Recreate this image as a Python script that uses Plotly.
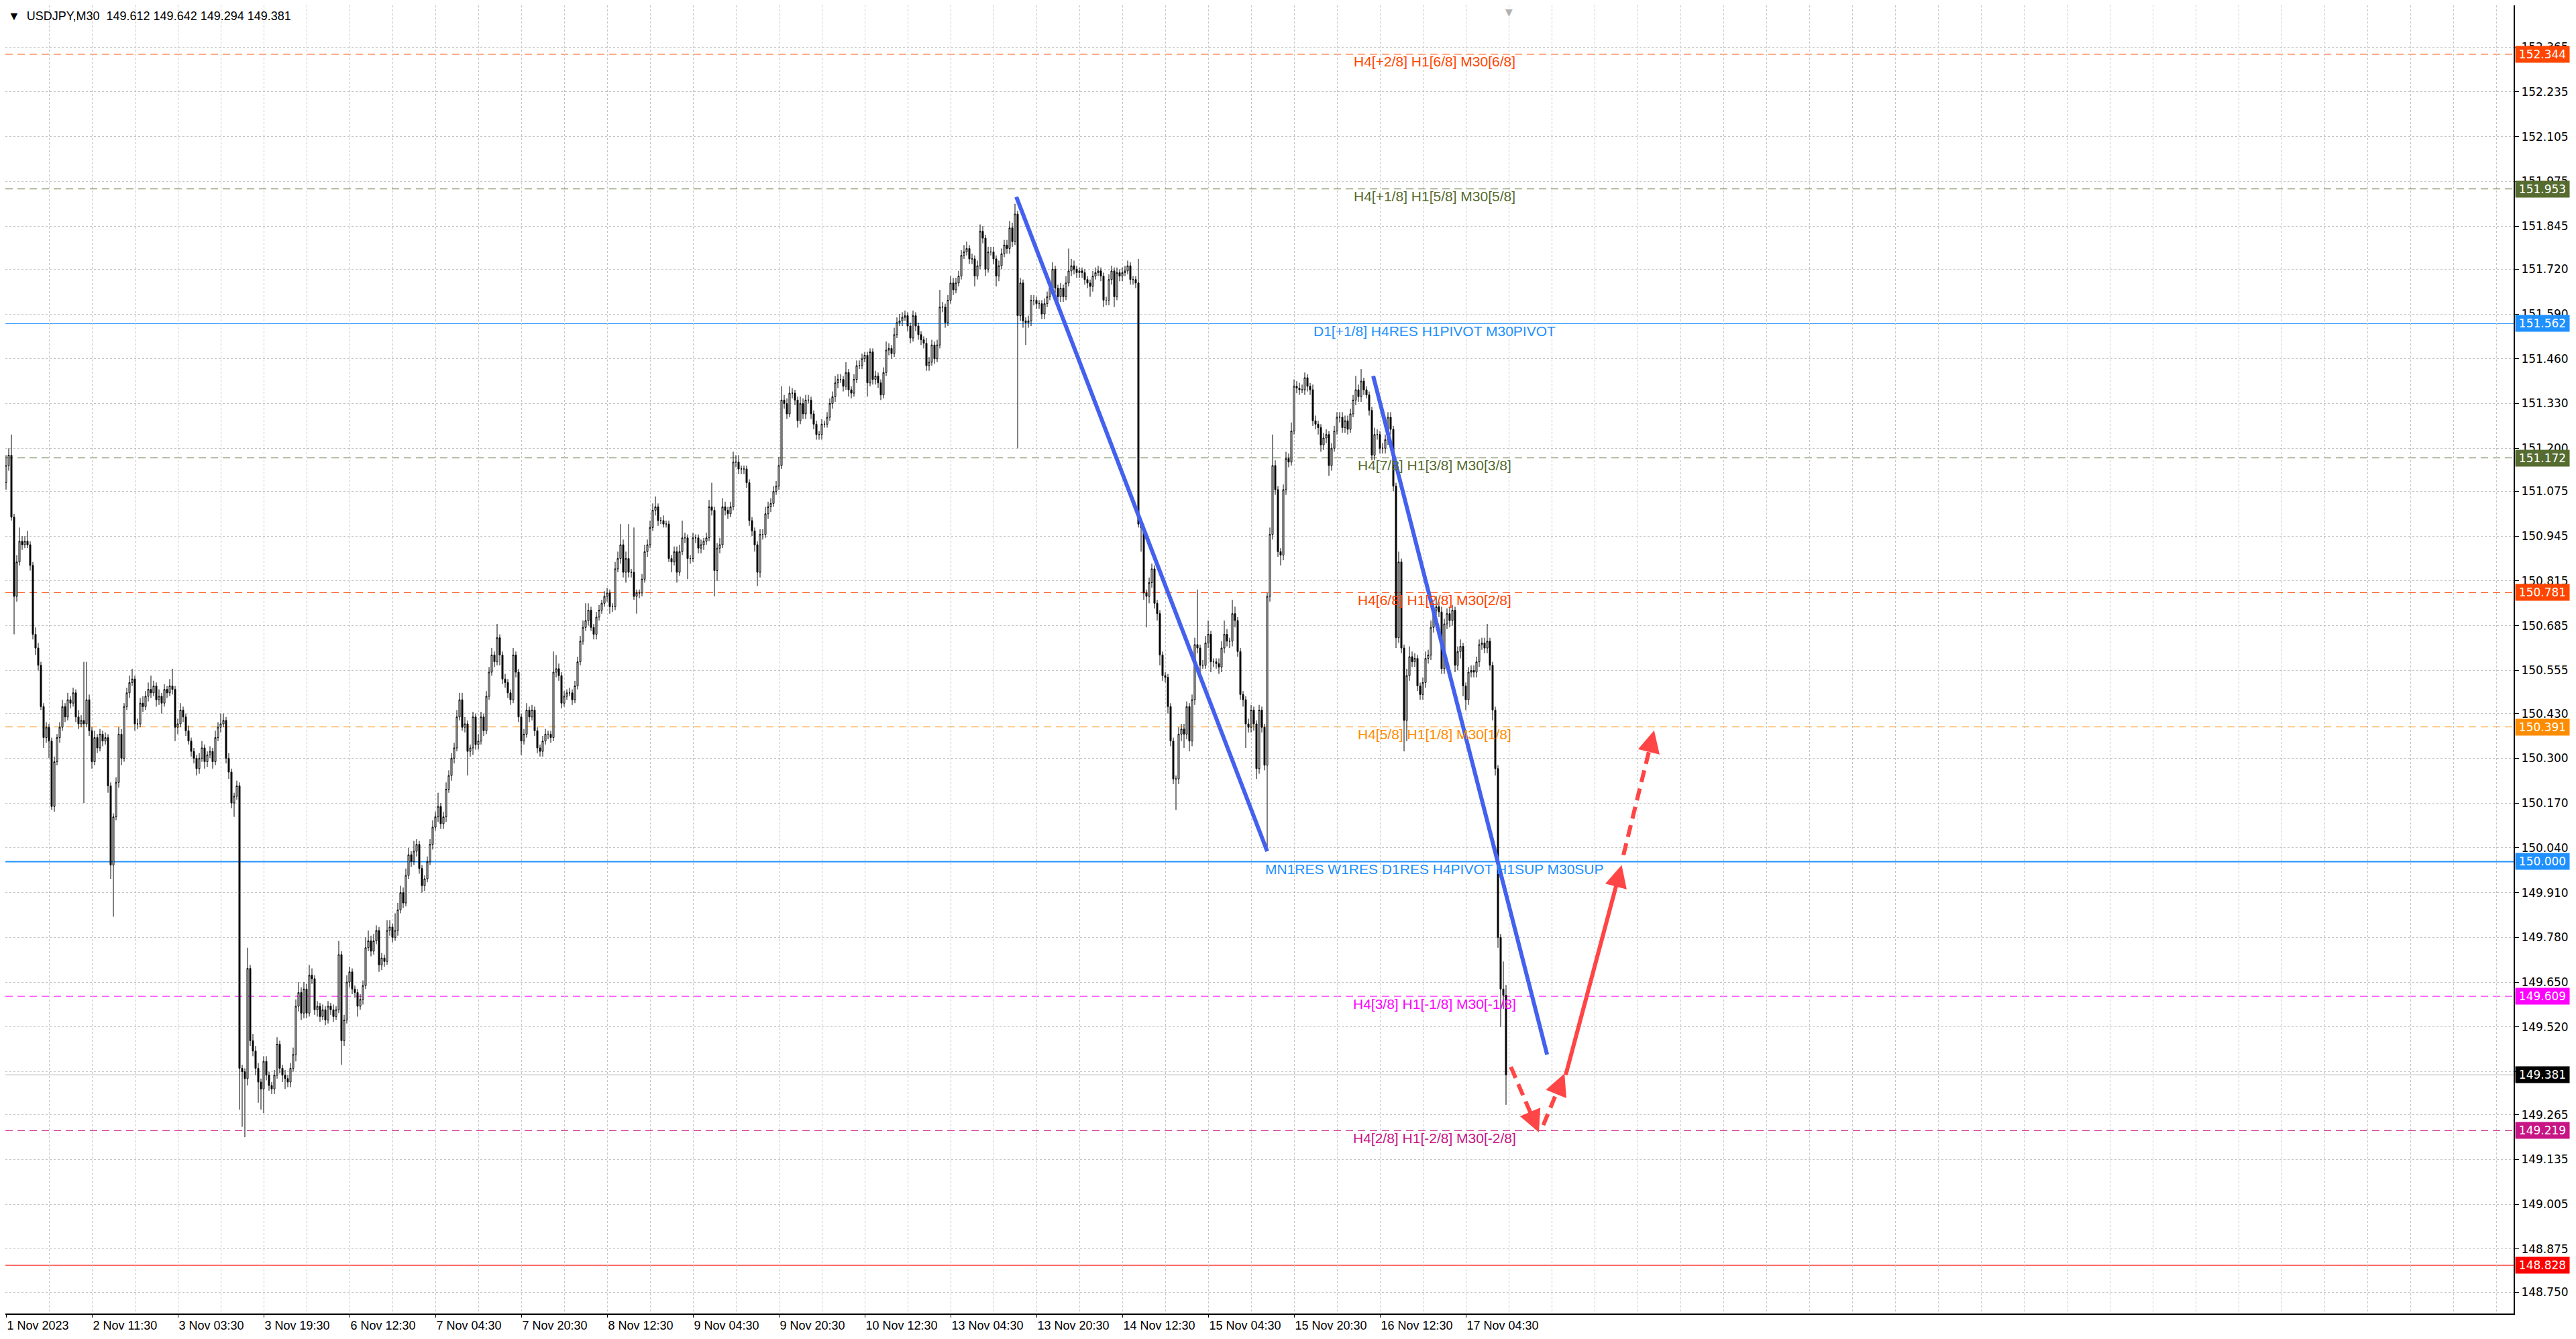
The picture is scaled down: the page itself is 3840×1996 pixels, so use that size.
import plotly.graph_objects as go

# ---------------- data ----------------
first_open = 151.100
closes = [
151.150, 151.180, 151.000, 150.770, 150.870, 150.930, 150.920, 150.930, 150.920, 150.860,
150.660, 150.620, 150.570, 150.450, 150.360, 150.390, 150.350, 150.160, 150.290, 150.360,
150.390, 150.450, 150.420, 150.470, 150.460, 150.490, 150.420, 150.400, 150.410, 150.400,
150.470, 150.380, 150.290, 150.360, 150.330, 150.370, 150.350, 150.360, 150.220, 149.990,
150.130, 150.230, 150.370, 150.300, 150.450, 150.490, 150.520, 150.530, 150.400, 150.400,
150.460, 150.450, 150.480, 150.500, 150.490, 150.510, 150.470, 150.480, 150.460, 150.500,
150.490, 150.510, 150.500, 150.390, 150.400, 150.440, 150.420, 150.380, 150.350, 150.320,
150.300, 150.270, 150.300, 150.330, 150.290, 150.310, 150.320, 150.290, 150.360, 150.390,
150.400, 150.410, 150.300, 150.260, 150.170, 150.190, 150.220, 149.400, 149.390, 149.370,
149.690, 149.480, 149.450, 149.400, 149.360, 149.340, 149.420, 149.380, 149.350, 149.340,
149.380, 149.470, 149.400, 149.380, 149.370, 149.360, 149.400, 149.440, 149.580, 149.620,
149.560, 149.630, 149.560, 149.670, 149.660, 149.570, 149.580, 149.550, 149.570, 149.540,
149.580, 149.570, 149.550, 149.570, 149.730, 149.480, 149.540, 149.650, 149.680, 149.630,
149.620, 149.580, 149.600, 149.640, 149.750, 149.770, 149.740, 149.770, 149.800, 149.700,
149.720, 149.710, 149.800, 149.810, 149.780, 149.800, 149.860, 149.910, 149.880, 149.960,
150.020, 150.000, 150.030, 150.050, 149.980, 149.930, 149.950, 150.000, 150.050, 150.100,
150.130, 150.160, 150.110, 150.130, 150.210, 150.250, 150.300, 150.330, 150.420, 150.470,
150.390, 150.400, 150.320, 150.330, 150.420, 150.340, 150.350, 150.420, 150.380, 150.480,
150.550, 150.600, 150.580, 150.650, 150.600, 150.530, 150.520, 150.490, 150.470, 150.600,
150.550, 150.420, 150.350, 150.370, 150.440, 150.420, 150.440, 150.380, 150.330, 150.320,
150.350, 150.370, 150.370, 150.360, 150.550, 150.560, 150.540, 150.460, 150.480, 150.490,
150.490, 150.470, 150.510, 150.580, 150.640, 150.680, 150.700, 150.730, 150.680, 150.660,
150.710, 150.730, 150.750, 150.770, 150.780, 150.740, 150.740, 150.850, 150.880, 150.920,
150.840, 150.880, 150.840, 150.840, 150.770, 150.780, 150.780, 150.820, 150.900, 150.920,
150.970, 151.020, 151.030, 150.990, 150.990, 150.980, 150.980, 150.880, 150.870, 150.900,
150.840, 150.900, 150.940, 150.940, 150.880, 150.880, 150.940, 150.940, 150.910, 150.920,
150.930, 150.940, 151.030, 151.020, 150.845, 150.910, 150.920, 151.030, 151.020, 151.010,
151.030, 151.160, 151.160, 151.140, 151.140, 151.140, 151.100, 150.990, 150.960, 150.920,
150.840, 150.950, 150.950, 151.010, 151.030, 151.040, 151.075, 151.090, 151.150, 151.340,
151.330, 151.300, 151.360, 151.360, 151.340, 151.280, 151.330, 151.300, 151.340, 151.340,
151.300, 151.270, 151.240, 151.240, 151.270, 151.270, 151.290, 151.330, 151.350, 151.390,
151.400, 151.400, 151.380, 151.420, 151.370, 151.360, 151.400, 151.440, 151.440, 151.460,
151.470, 151.390, 151.480, 151.400, 151.410, 151.390, 151.355, 151.420, 151.485, 151.490,
151.475, 151.530, 151.565, 151.570, 151.580, 151.585, 151.555, 151.520, 151.585, 151.555,
151.530, 151.515, 151.505, 151.440, 151.450, 151.500, 151.460, 151.500, 151.610, 151.610,
151.565, 151.630, 151.680, 151.660, 151.680, 151.700, 151.760, 151.770, 151.780, 151.750,
151.750, 151.700, 151.730, 151.830, 151.810, 151.720, 151.770, 151.770, 151.750, 151.700,
151.730, 151.765, 151.790, 151.780, 151.840, 151.800, 151.880, 151.585, 151.680, 151.570,
151.565, 151.570, 151.630, 151.630, 151.620, 151.620, 151.590, 151.620, 151.640, 151.665,
151.720, 151.665, 151.640, 151.665, 151.640, 151.680, 151.715, 151.730, 151.720, 151.710,
151.715, 151.710, 151.690, 151.680, 151.670, 151.700, 151.710, 151.715, 151.700, 151.630,
151.630, 151.690, 151.715, 151.640, 151.710, 151.700, 151.710, 151.715, 151.730, 151.690,
151.690, 151.680, 150.980, 150.970, 150.780, 150.770, 150.810, 150.850, 150.750, 150.720,
150.600, 150.540, 150.535, 150.450, 150.350, 150.240, 150.240, 150.370, 150.385, 150.370,
150.450, 150.350, 150.470, 150.630, 150.620, 150.570, 150.570, 150.635, 150.660, 150.580,
150.580, 150.575, 150.565, 150.620, 150.660, 150.640, 150.640, 150.720, 150.700, 150.610,
150.485, 150.470, 150.400, 150.390, 150.440, 150.400, 150.270, 150.440, 150.390, 150.280,
150.770, 150.950, 151.150, 151.080, 150.900, 150.890, 151.080, 151.170, 151.160, 151.250,
151.380, 151.375, 151.370, 151.370, 151.405, 151.380, 151.370, 151.280, 151.270, 151.260,
151.210, 151.230, 151.240, 151.150, 151.200, 151.250, 151.290, 151.290, 151.260, 151.280,
151.255, 151.300, 151.340, 151.370, 151.350, 151.395, 151.370, 151.355, 151.310, 151.180,
151.240, 151.240, 151.200, 151.200, 151.225, 151.290, 151.255, 151.090, 150.650, 150.870,
150.620, 150.410, 150.540, 150.595, 150.580, 150.590, 150.510, 150.485, 150.520, 150.590,
150.600, 150.680, 150.730, 150.740, 150.725, 150.560, 150.690, 150.720, 150.700, 150.730,
150.570, 150.610, 150.625, 150.510, 150.470, 150.550, 150.555, 150.550, 150.580, 150.630,
150.635, 150.620, 150.640, 150.570, 150.440, 150.270, 149.780, 149.630, 149.612, 149.381,
]
# wick lengths above / below the body, in thousandths of a yen
upper_wick = [
30, 20, 60, 10, 20, 40, 15, 15, 30, 10,  10, 20, 15, 10, 10, 15, 10, 10, 15, 10,
15, 20, 10, 20, 10, 15, 10, 20, 15, 170, 110, 15, 10, 20, 10, 15, 10, 15, 10, 10,
10, 15, 20, 15, 10, 15, 20, 30, 10, 15,  15, 20, 15, 20, 40, 15, 10, 20, 10, 15,
10, 20, 50, 10, 15, 20, 10, 10, 15, 10,  10, 10, 15, 20, 10, 10, 15, 10, 20, 15,
30, 20, 10, 15, 10, 10, 15, 10, 10, 10,  60, 10, 20, 15, 15, 10, 15, 15, 10, 10,
15, 20, 10, 10, 15, 10, 15, 20, 20, 30,  15, 20, 15, 30, 20, 10, 15, 10, 15, 10,
15, 10, 15, 10, 40, 10, 15, 20, 15, 10,  10, 10, 15, 15, 30, 30, 15, 20, 15, 10,
15, 10, 30, 20, 10, 50, 20, 20, 15, 20,  20, 10, 30, 15, 10, 10, 10, 15, 15, 20,
15, 40, 10, 15, 20, 15, 15, 15, 20, 20,  20, 20, 10, 10, 15, 10, 20, 15, 10, 15,
15, 20, 10, 40, 10, 10, 15, 10, 10, 20,  10, 10, 10, 15, 20, 10, 15, 10, 10, 10,
15, 15, 10, 10, 60, 40, 15, 10, 15, 10,  15, 10, 15, 15, 15, 20, 50, 20, 10, 10,
15, 15, 10, 15, 15, 10, 10, 20, 20, 60,  15, 20, 100, 10, 130, 10, 10, 15, 20, 15,
20, 20, 30, 10, 10, 15, 10, 10, 10, 15,  15, 20, 50, 15, 10, 10, 15, 10, 10, 15,
10, 15, 20, 70, 10, 15, 20, 25, 15, 10,  15, 30, 20, 20, 10, 10, 10, 10, 10, 10,
10, 15, 15, 20, 15, 15, 15, 15, 25, 40,  15, 15, 20, 15, 10, 10, 20, 15, 15, 15,
10, 10, 10, 10, 15, 10, 15, 15, 15, 20,  15, 15, 10, 30, 10, 10, 15, 15, 15, 15,
10, 10, 10, 10, 15, 10, 10, 15, 25, 15,  10, 20, 15, 20, 15, 15, 10, 10, 15, 10,
10, 10, 10, 15, 15, 15, 10, 15, 50, 15,  10, 15, 20, 15, 15, 15, 15, 20, 20, 10,
15, 10, 15, 20, 15, 10, 15, 15, 15, 10,  15, 15, 15, 15, 20, 15, 30, 10, 15, 10,
10, 15, 15, 15, 10, 10, 10, 15, 15, 15,  20, 10, 10, 15, 10, 20, 65, 20, 15, 10,
10, 10, 10, 10, 10, 15, 15, 15, 10, 10,  10, 15, 15, 10, 15, 10, 15, 15, 15, 10,
10, 10, 70, 10, 10, 10, 15, 15, 10, 10,  10, 10, 10, 10, 10, 10, 10, 20, 15, 15,
15, 10, 15, 20, 160, 10, 15, 20, 40, 10, 10, 10, 15, 20, 40, 15, 10, 40, 20, 10,
10, 10, 10, 15, 15, 10, 10, 15, 10, 10,  10, 20, 90, 15, 10, 10, 15, 20, 15, 25,
20, 15, 15, 15, 15, 10, 10, 15, 15, 10,  10, 15, 15, 10, 15, 15, 15, 15, 15, 15,
15, 15, 15, 40, 15, 35, 10, 10, 10, 10,  20, 15, 10, 15, 15, 15, 15, 10, 10, 30,
10, 10, 20, 30, 15, 15, 10, 10, 15, 20,  15, 20, 20, 30, 15, 15, 15, 15, 20, 15,
10, 15, 20, 10, 10, 15, 15, 15, 15, 15,  15, 15, 50, 10, 10, 10, 10, 10, 80, 30,
]
lower_wick = [
20, 15, 10, 110, 15, 10, 15, 10, 10, 15, 15, 20, 15, 10, 30, 15, 50, 10, 15, 10,
15, 10, 15, 10, 15, 10, 15, 15, 10, 230, 10, 15, 20, 10, 15, 10, 15, 10, 20, 40,
150, 10, 15, 20, 10, 10, 15, 10, 20, 15, 10, 15, 10, 15, 15, 10, 20, 15, 30, 10,
15, 10, 15, 40, 20, 10, 15, 15, 10, 15,  15, 20, 15, 10, 20, 15, 10, 20, 10, 10,
15, 10, 15, 20, 15, 40, 10, 120, 160, 170, 20, 15, 15, 20, 60, 60, 70, 15, 15, 15,
15, 10, 15, 20, 30, 15, 15, 10, 20, 15,  20, 15, 15, 10, 15, 15, 20, 15, 10, 15,
10, 15, 15, 10, 10, 70, 15, 10, 15, 15,  15, 30, 10, 15, 10, 10, 15, 10, 10, 20,
15, 15, 10, 15, 15, 10, 15, 10, 15, 10,  10, 15, 10, 15, 15, 20, 15, 10, 10, 15,
10, 15, 15, 15, 15, 10, 15, 15, 10, 10,  10, 15, 70, 15, 20, 15, 15, 10, 15, 10,
10, 10, 15, 10, 30, 15, 15, 15, 15, 10,  15, 15, 40, 10, 10, 15, 10, 15, 15, 15,
15, 10, 15, 15, 10, 15, 15, 15, 10, 10,  10, 15, 10, 10, 10, 10, 10, 15, 10, 15,
15, 10, 10, 10, 15, 20, 15, 10, 10, 15,  15, 30, 15, 15, 10, 50, 15, 10, 10, 15,
10, 10, 15, 15, 10, 10, 10, 10, 30, 10,  30, 10, 10, 15, 60, 15, 10, 15, 15, 15,
15, 10, 10, 15, 75, 30, 15, 10, 15, 15,  10, 10, 15, 15, 15, 15, 15, 15, 15, 20,
40, 15, 15, 10, 15, 15, 10, 10, 10, 10,  15, 15, 10, 15, 15, 20, 10, 15, 15, 10,
15, 15, 15, 15, 15, 10, 10, 10, 15, 15,  15, 10, 15, 10, 20, 15, 10, 10, 10, 10,
10, 40, 10, 15, 15, 15, 15, 10, 10, 15,  15, 10, 10, 10, 15, 10, 15, 15, 10, 15,
15, 15, 15, 15, 15, 10, 15, 10, 10, 15,  15, 10, 10, 15, 10, 10, 10, 10, 10, 15,
15, 30, 10, 10, 15, 20, 10, 10, 15, 30,  15, 10, 10, 15, 15, 15, 10, 385, 15, 20,
65, 15, 15, 15, 15, 15, 15, 15, 10, 10,  10, 15, 15, 15, 15, 10, 10, 15, 15, 15,
15, 15, 15, 15, 30, 15, 10, 10, 15, 20,  15, 15, 15, 30, 10, 15, 15, 10, 10, 15,
15, 15, 10, 70, 20, 90, 20, 15, 15, 20,  30, 15, 15, 20, 15, 15, 90, 15, 20, 40,
15, 30, 15, 15, 15, 20, 10, 10, 15, 30,  15, 15, 20, 15, 15, 15, 20, 15, 20, 15,
15, 20, 70, 15, 15, 20, 30, 15, 15, 15,  240, 15, 15, 15, 15, 30, 15, 15, 15, 10,
10, 15, 15, 10, 15, 15, 15, 15, 15, 20,  20, 15, 15, 30, 15, 10, 10, 15, 15, 15,
15, 10, 10, 15, 15, 15, 15, 10, 15, 15,  15, 15, 15, 15, 15, 15, 15, 15, 30, 15,
15, 90, 60, 15, 15, 15, 15, 15, 15, 15,  15, 15, 15, 15, 15, 15, 15, 15, 20, 15,
20, 15, 20, 30, 30, 15, 15, 15, 15, 15,  15, 15, 15, 15, 30, 20, 30, 110, 40, 87,
]

date_tick_bars = [0, 32, 64, 96, 128, 160, 192, 224, 256, 288, 320, 352, 384, 416, 448, 480, 512, 544]
date_tick_labels = ["1 Nov 2023", "2 Nov 11:30", "3 Nov 03:30", "3 Nov 19:30", "6 Nov 12:30",
                    "7 Nov 04:30", "7 Nov 20:30", "8 Nov 12:30", "9 Nov 04:30", "9 Nov 20:30",
                    "10 Nov 12:30", "13 Nov 04:30", "13 Nov 20:30", "14 Nov 12:30", "15 Nov 04:30",
                    "15 Nov 20:30", "16 Nov 12:30", "17 Nov 04:30"]
price_ticks = [152.365, 152.235, 152.105, 151.975, 151.845, 151.720, 151.590, 151.460, 151.330,
               151.200, 151.075, 150.945, 150.815, 150.685, 150.555, 150.430, 150.300, 150.170,
               150.040, 149.910, 149.780, 149.650, 149.520, 149.390, 149.265, 149.135, 149.005,
               148.875, 148.750]

level_prices = [152.344, 151.953, 151.562, 151.172, 150.781, 150.391, 150.000, 149.609, 149.219, 148.828]
level_colors = ["#FF4500", "#556B2F", "#1E90FF", "#556B2F", "#FF4500", "#FF8C00", "#1E90FF",
                "#FF00FF", "#C71585", "#FF0000"]
level_dashes = ["dash", "dash", "solid", "dash", "dash", "dash", "solid", "dash", "dash", "solid"]
level_widths = [1, 1, 1, 1, 1, 1, 2, 1, 1, 1]
level_texts = ["H4[+2/8] H1[6/8] M30[6/8]", "H4[+1/8] H1[5/8] M30[5/8]",
               "D1[+1/8] H4RES H1PIVOT M30PIVOT", "H4[7/8] H1[3/8] M30[3/8]",
               "H4[6/8] H1[2/8] M30[2/8]", "H4[5/8] H1[1/8] M30[1/8]",
               "MN1RES W1RES D1RES H4PIVOT H1SUP M30SUP", "H4[3/8] H1[-1/8] M30[-1/8]",
               "H4[2/8] H1[-2/8] M30[-2/8]", ""]
level_label_bar = 532.25

current_price = 149.381
header = "USDJPY,M30\u00a0\u00a0149.612 149.642 149.294 149.381"
shift_marker_bar = 560

trend_x = [[376.5, 470.0], [509.5, 574.3]]
trend_y = [[151.930, 150.030], [151.410, 149.440]]

arrow_x = [[560.8, 571.25], [572.9, 580.8], [581.25, 602.1], [602.75, 614.2]]
arrow_y = [[149.404, 149.214], [149.235, 149.385], [149.381, 149.990], [150.019, 150.381]]
arrow_dashed = [True, True, False, True]

# ---------------- build ----------------
bars = list(range(len(closes)))
opens = [first_open] + closes[:-1]
highs = [max(o, c) + u / 1000 for o, c, u in zip(opens, closes, upper_wick)]
lows = [min(o, c) - d / 1000 for o, c, d in zip(opens, closes, lower_wick)]

# the page has an 8px body margin, so the figure is 16px smaller than the window
W, H = 3824, 1980
ML, MR, MT, MB = 0, 85, 0, 30
PX_PER_BAR = 4.0
plot_w = W - ML - MR
plot_h = H - MT - MB
x0 = -0.25
x1 = x0 + plot_w / PX_PER_BAR
y_lo, y_hi = 148.688, 152.486
px_per_price = plot_h / (y_hi - y_lo)

GRID = "#C4C4C4"
RED = "#FF4545"
BLUE = "#4461EE"
TXT_FONT = "Liberation Sans, Arial, sans-serif"
AX_FONT = "DejaVu Sans, Verdana, sans-serif"

fig = go.Figure()

fig.add_trace(go.Candlestick(
    x=bars, open=opens, high=highs, low=lows, close=closes,
    increasing=dict(line=dict(color="black", width=1), fillcolor="white"),
    decreasing=dict(line=dict(color="black", width=1), fillcolor="black"),
    whiskerwidth=0, hoverinfo="skip", showlegend=False,
))

shapes = []
for p, col, dsh, wdt in zip(level_prices, level_colors, level_dashes, level_widths):
    shapes.append(dict(type="line", xref="paper", x0=0, x1=1, yref="y", y0=p, y1=p,
                       line=dict(color=col, width=wdt, dash=("11px,7px" if dsh == "dash" else "solid")),
                       layer="below"))
shapes.append(dict(type="line", xref="paper", x0=0, x1=1, yref="y", y0=current_price, y1=current_price,
                   line=dict(color="#B8B8B8", width=1), layer="below"))

for tx, ty in zip(trend_x, trend_y):
    fig.add_trace(go.Scatter(x=tx, y=ty, mode="lines", line=dict(color=BLUE, width=6),
                             hoverinfo="skip", showlegend=False))

annotations = []
for (ax_, bx_), (ay_, by_), dashed in zip(arrow_x, arrow_y, arrow_dashed):
    dxp = (bx_ - ax_) * PX_PER_BAR
    dyp = (by_ - ay_) * px_per_price
    length = (dxp ** 2 + dyp ** 2) ** 0.5
    f = 16.0 / length
    backx = bx_ - (bx_ - ax_) * f
    backy = by_ - (by_ - ay_) * f
    fig.add_trace(go.Scatter(x=[ax_, backx], y=[ay_, backy], mode="lines",
                             line=dict(color=RED, width=6, dash=("18px,10px" if dashed else "solid")),
                             hoverinfo="skip", showlegend=False))
    annotations.append(dict(x=bx_, y=by_, ax=backx, ay=backy, xref="x", yref="y", axref="x", ayref="y",
                            text="", showarrow=True, arrowhead=2, arrowsize=1.1, arrowwidth=6,
                            arrowcolor=RED, standoff=0))

for p, col, txt in zip(level_prices, level_colors, level_texts):
    if txt:
        annotations.append(dict(x=level_label_bar, y=p, xref="x", yref="y", text=txt, showarrow=False,
                                xanchor="center", yanchor="middle", yshift=-11,
                                font=dict(family=TXT_FONT, size=21, color=col)))

# price boxes on the right axis
box_prices = level_prices + [current_price]
box_colors = ["#FF4500", "#556B2F", "#1E90FF", "#556B2F", "#FF4500", "#FF8C00", "#1E90FF",
              "#FF00FF", "#C71585", "#FF0000", "#000000"]
for p, col in zip(box_prices, box_colors):
    annotations.append(dict(x=1, y=p, xref="paper", yref="y", text="%.3f" % p, showarrow=False,
                            xanchor="left", yanchor="middle", xshift=2, width=78, height=22,
                            align="center", bgcolor=col,
                            font=dict(family=AX_FONT, size=17, color="white")))

annotations.append(dict(x=0, y=1, xref="paper", yref="paper", xanchor="left", yanchor="top",
                        xshift=2, yshift=-4, showarrow=False, text="\u25BC\u00a0\u00a0" + header,
                        font=dict(family=TXT_FONT, size=18, color="black")))
annotations.append(dict(x=shift_marker_bar, y=1, xref="x", yref="paper", xanchor="center", yanchor="top",
                        yshift=0, showarrow=False, text="\u25BC",
                        font=dict(family=AX_FONT, size=14, color="#B0B0B0")))

fig.update_layout(
    width=W, height=H,
    margin=dict(l=ML, r=MR, t=MT, b=MB, pad=0, autoexpand=False),
    paper_bgcolor="white", plot_bgcolor="white",
    showlegend=False,
    shapes=shapes, annotations=annotations,
    xaxis=dict(
        range=[x0, x1], rangeslider=dict(visible=False),
        tickmode="array", tickvals=date_tick_bars, ticktext=date_tick_labels,
        ticklabelposition="outside right", ticks="outside", ticklen=4, tickcolor="black",
        tickangle=0, automargin=False,
        tickfont=dict(family=TXT_FONT, size=18, color="black"),
        showgrid=True, gridcolor=GRID, griddash="3px,3px", gridwidth=1,
        minor=dict(tickmode="linear", tick0=0, dtick=16, showgrid=True, gridcolor=GRID,
                   griddash="3px,3px", gridwidth=1, ticks=""),
        showline=True, linecolor="black", linewidth=2, mirror=True, zeroline=False,
        fixedrange=True,
    ),
    yaxis=dict(
        side="right", range=[y_lo, y_hi], automargin=False,
        tickmode="array", tickvals=price_ticks, ticktext=["%.3f" % v for v in price_ticks],
        ticks="outside", ticklen=6, tickcolor="black",
        tickfont=dict(family=AX_FONT, size=17, color="black"),
        showgrid=True, gridcolor=GRID, griddash="3px,3px", gridwidth=1,
        showline=True, linecolor="black", linewidth=2, mirror=True, zeroline=False,
        fixedrange=True,
    ),
)

fig.write_html("out.html", config={"displayModeBar": False})
